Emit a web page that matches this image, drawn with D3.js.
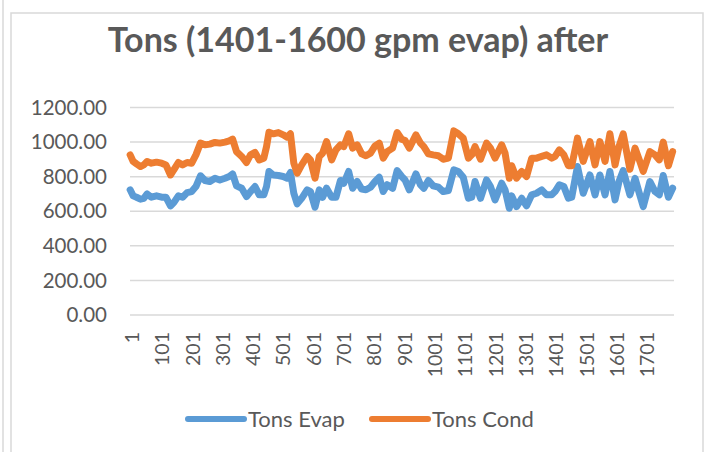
<!DOCTYPE html>
<meta charset="utf-8">
<style>
body { margin:0; background:#fff; }
text { font-family: Lato, "Open Sans", sans-serif; fill:#595959; }
.grid line { stroke:#d9d9d9; stroke-width:1.5px; }
.series { fill:none; stroke-width:7px; stroke-linejoin:round; stroke-linecap:round; }
</style>
<body>
<script src="https://d3js.org/d3.v7.min.js"></script>
<script>

// sample positions (row number), about every 10-20 rows
var sampleIdx = [
  1,11,22,35,46,57,71,88,105,119,
  134,145,160,174,189,204,218,233,248,264,
  281,297,314,328,339,352,369,385,398,413,
  427,442,451,459,473,490,506,519,530,541,
  552,567,585,596,611,625,636,649,666,680,
  695,706,722,735,750,765,779,794,809,823,
  836,849,867,882,897,908,922,944,959,970,
  985,1001,1018,1034,1051,1069,1084,1100,1117,1128,
  1139,1157,1177,1190,1205,1227,1238,1252,1260,1276,
  1293,1309,1326,1342,1359,1375,1392,1403,1417,1432,
  1447,1458,1477,1496,1518,1535,1551,1568,1584,1601,
  1614,1628,1650,1667,1681,1694,1716,1733,1747,1760,
  1777,1791
];

var tonsEvap = [
  724,689,681,670,675,700,681,689,681,681,
  631,650,689,681,708,714,743,805,778,772,
  791,781,791,801,816,747,733,685,714,743,
  695,695,743,830,810,807,801,791,824,704,
  643,675,724,714,623,724,681,733,681,681,
  778,762,830,733,772,728,724,739,772,797,
  714,753,733,835,801,781,724,816,753,733,
  778,747,739,714,720,839,830,797,675,681,
  772,675,781,743,666,762,724,617,689,627,
  675,631,695,704,724,695,695,714,753,743,
  675,681,859,704,810,695,810,695,830,666,
  772,835,695,791,704,627,772,714,695,807,
  681,733
];

var tonsCond = [
  926,888,874,859,868,888,878,884,878,868,
  810,839,882,868,882,878,926,994,984,988,
  998,994,1000,1007,1017,945,917,882,926,940,
  897,907,974,1057,1048,1055,1042,1028,1048,878,
  820,868,917,897,791,917,936,1003,897,955,
  984,974,1048,965,984,932,921,936,978,994,
  907,945,965,1055,1017,1009,965,1042,994,974,
  932,926,921,901,907,1065,1048,1023,907,926,
  974,901,994,965,907,984,936,791,863,791,
  830,801,907,907,917,926,907,917,955,926,
  863,863,1023,888,1003,868,1003,888,1048,868,
  974,1048,843,965,897,830,945,926,897,1000,
  863,945
];

var rowCount = 1795;
var xTickLabels = [1,101,201,301,401,501,601,701,801,901,1001,1101,1201,1301,1401,1501,1601,1701];
var yTicks = [0,200,400,600,800,1000,1200];
var seriesNames = ["Tons Evap","Tons Cond"];
var seriesColors = ["#5b9bd5","#ed7d31"];

var W = 720, H = 452;
var svg = d3.select("body").append("svg").attr("width", W).attr("height", H);

// outer frame lines
svg.append("line").attr("x1",3).attr("x2",3).attr("y1",0).attr("y2",H)
  .attr("stroke","#d9d9d9").attr("stroke-width",1.5);
svg.append("rect").attr("x",11).attr("y",13).attr("width",692).attr("height",460)
  .attr("fill","#fff").attr("stroke","#d9d9d9").attr("stroke-width",1.5);

var x = d3.scaleLinear().domain([0.5, rowCount + 0.5]).range([130, 674]);
var y = d3.scaleLinear().domain([0, 1200]).range([315, 107.5]);

svg.append("text").attr("x",358).attr("y",52).attr("text-anchor","middle")
  .style("font-size","34px").style("font-weight","bold")
  .text("Tons (1401-1600 gpm evap) after");

// gridlines
svg.append("g").attr("class","grid")
  .selectAll("line").data(yTicks).join("line")
  .attr("x1",130).attr("x2",674)
  .attr("y1",d=>y(d)).attr("y2",d=>y(d));

// y labels
svg.append("g").selectAll("text").data(yTicks).join("text")
  .attr("x",107).attr("y",d=>y(d)).attr("dy","0.35em")
  .attr("text-anchor","end").style("font-size","20.5px")
  .text(d=>d3.format(".2f")(d));

// x labels, rotated
svg.append("g").selectAll("text").data(xTickLabels).join("text")
  .attr("transform",d=>"translate(" + x(d) + ",332) rotate(-90)")
  .attr("dy","0.45em").attr("text-anchor","end").style("font-size","19.5px")
  .text(d=>d);

var line = d3.line().x(d=>x(d[0])).y(d=>y(d[1]));
[tonsEvap, tonsCond].forEach(function(vals, i){
  svg.append("path").attr("class","series")
    .attr("stroke", seriesColors[i])
    .attr("d", line(sampleIdx.map((s,j)=>[s, vals[j]])));
});

// legend
var legX = [188, 372];
seriesNames.forEach(function(name, i){
  var g = svg.append("g").attr("transform","translate(" + legX[i] + ",419)");
  g.append("line").attr("x1",0).attr("x2",56)
    .attr("stroke",seriesColors[i]).attr("stroke-width",6).attr("stroke-linecap","round");
  g.append("text").attr("x",60).attr("dy","0.35em").style("font-size","22px").text(name);
});
</script>
</body>
